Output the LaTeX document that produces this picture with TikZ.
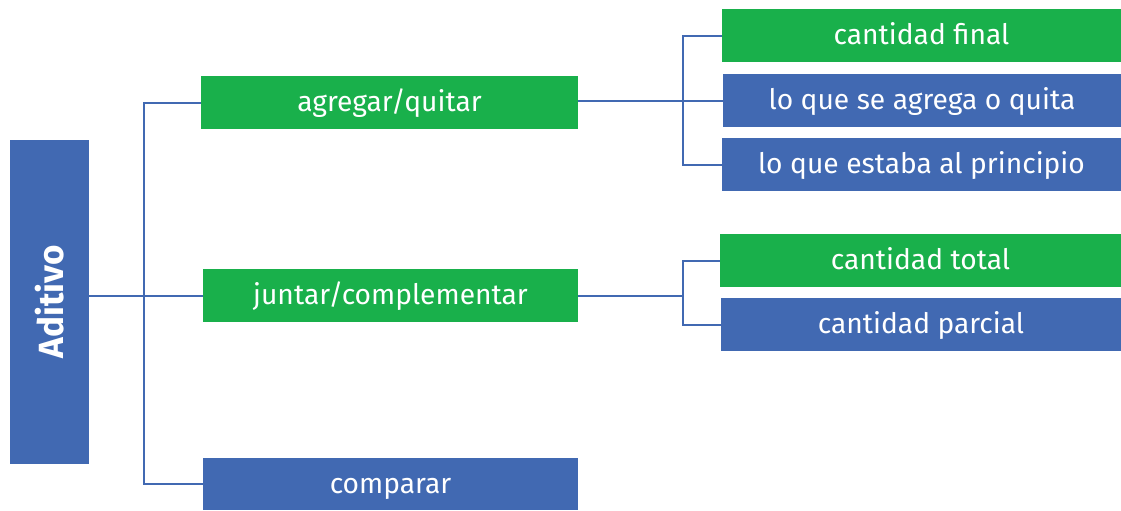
\documentclass[tikz,border=0pt]{standalone}
\usepackage{fontspec}
\setmainfont{Fira Sans}
\definecolor{verde}{RGB}{25,176,75}
\definecolor{azul}{RGB}{65,105,178}
\tikzset{
    caja/.style={minimum height=26.5pt, inner sep=0pt, text=white,
        text height=11pt, text depth=2pt,
        font=\fontsize{14.1}{17}\selectfont},
    cajaverde/.style={caja, fill=verde},
    cajaazul/.style={caja, fill=azul},
    rama/.style={draw=azul, line width=1pt}
}
\begin{document}
\begin{tikzpicture}[x=0.5pt, y=-0.5pt]
    \useasboundingbox (0,0) rectangle (1121,510);

    % Caja principal.
    \node[cajaazul, rotate=90, minimum width=162pt, minimum height=39.5pt,
        text height=14pt, text depth=0pt,
        font=\fontsize{17.5}{20}\selectfont\bfseries] (aditivo) at (49.5,302) {Aditivo};

    % Primer nivel.
    \node[cajaverde, minimum width=188.5pt] (agregar) at (389.5,102.5) {agregar/quitar};
    \node[cajaverde, minimum width=187.5pt] (juntar) at (390.5,295.5) {juntar/complementar};
    \node[cajaazul, minimum width=187.5pt, minimum height=26pt] (comparar) at (390.5,484) {comparar};

    % Segundo nivel.
    \node[cajaverde, minimum width=199.5pt] (final) at (921.5,35.5) {cantidad final};
    \node[cajaazul, minimum width=199pt] (agrega) at (922,100.5) {lo que se agrega o quita};
    \node[cajaazul, minimum width=199.5pt] (estaba) at (921.5,164.5) {lo que estaba al principio};
    \node[cajaverde, minimum width=200.5pt] (total) at (920.5,260.5) {cantidad total};
    \node[cajaazul, minimum width=200pt] (parcial) at (921,324.5) {cantidad parcial};

    % Líneas de unión.
    \coordinate (tronco) at (144,0);
    \coordinate (eje) at (683,0);
    \draw[rama] (aditivo.south |- juntar.west) -- (juntar.west);
    \draw[rama] (agregar.west) -- (agregar.west -| tronco)
        -- (comparar.west -| tronco) -- (comparar.west);
    \draw[rama] (agregar.east |- agrega.west) -- (agrega.west);
    \draw[rama] (final.west) -- (final.west -| eje)
        -- (estaba.west -| eje) -- (estaba.west);
    \draw[rama] (juntar.east) -- (juntar.east -| eje);
    \draw[rama] (total.west) -- (total.west -| eje)
        -- (parcial.west -| eje) -- (parcial.west);
\end{tikzpicture}
\end{document}
